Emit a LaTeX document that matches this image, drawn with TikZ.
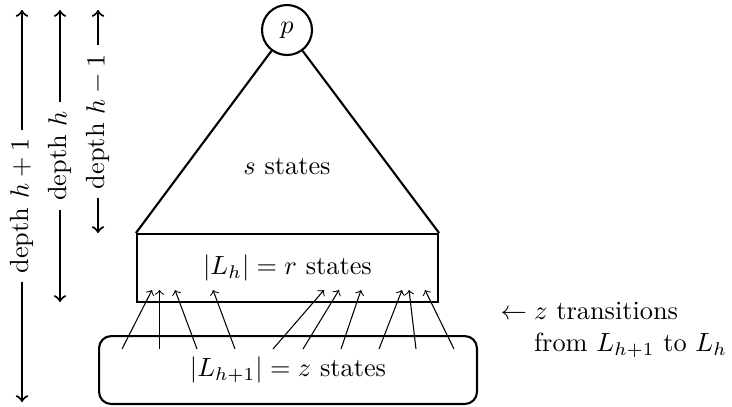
\documentclass[tikz,border=0pt]{standalone}
\begin{document}
\begin{tikzpicture}[x=0.38pt,y=-0.38pt,
  box/.style={draw,thick,inner sep=0pt},
  depth/.style={thick,<->},
  trans/.style={->}]
\useasboundingbox (0,0) rectangle (732,406);

\node[box,circle,minimum size=19pt] (p) at (287,30) {$p$};
\node[box,rectangle,minimum width=114.4pt,minimum height=25.8pt] (Lh) at (287.5,268) {$|L_h| = r$ states};
\node[box,rectangle,rounded corners=4.6pt,minimum width=143.6pt,minimum height=25.8pt] (Lz) at (288,370) {$|L_{h+1}| = z$ states};
\draw[thick] (p) -- (Lh.north west);
\draw[thick] (p) -- (Lh.north east);
\node (sst) at (287,167) {$s$ states};

\foreach \i/\a/\b in {1/122/152,2/159.5/159.5,3/197/175,4/235/213,5/273/324,
                      6/303/339,7/341/361,8/379/402,9/416/409,10/454/425}
{
  \coordinate (from\i) at (\a,349);
  \coordinate (to\i) at (\b,290);
  \draw[trans] (from\i) -- (to\i);
}

\node[anchor=west,align=left,inner sep=0pt] (note) at (500,330)
  {$\leftarrow z$ transitions\\ $\hphantom{\leftarrow}\;$from $L_{h+1}$ to $L_h$};

\coordinate (top1) at (22,10);  \coordinate (bot1) at (22,402);
\coordinate (top2) at (60,10);  \coordinate (bot2) at (60,302);
\coordinate (top3) at (98,10);  \coordinate (bot3) at (98,233);
\draw[depth] (top1) -- node[fill=white,rotate=90] (dlab1) {depth $h+1$} (bot1);
\draw[depth] (top2) -- node[fill=white,rotate=90] (dlab2) {depth $h$} (bot2);
\draw[depth] (top3) -- node[fill=white,rotate=90] (dlab3) {depth $h-1$} (bot3);
\end{tikzpicture}
\end{document}
